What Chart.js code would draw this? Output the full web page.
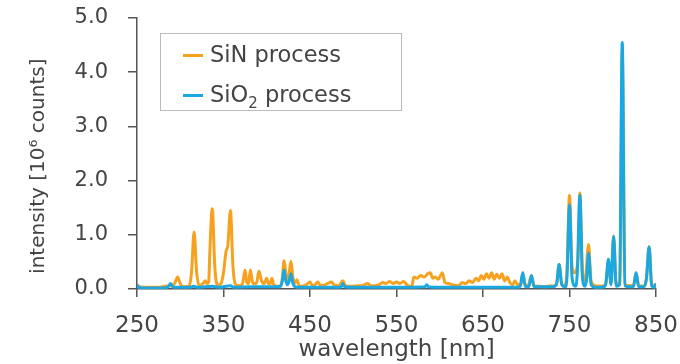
<!DOCTYPE html>
<html>
<head>
<meta charset="utf-8">
<script src="https://cdn.jsdelivr.net/npm/chart.js@4/dist/chart.umd.min.js"></script>
<style>
  body { margin: 0; background: #fff; }
  #wrap { position: relative; width: 680px; height: 364px; }
  #legend {
    position: absolute; left: 160px; top: 33px; width: 240px; height: 76px;
    border: 1px solid #bbb; background: #fff;
    font-family: "DejaVu Sans", sans-serif; font-size: 22.5px; color: #444;
  }
  .item { position: absolute; left: 22px; height: 30px; line-height: 30px; white-space: nowrap; }
  .swatch { display: inline-block; width: 20px; height: 3px; vertical-align: middle; margin-right: 7px; }
  sub { font-size: 15px; vertical-align: -6px; line-height: 0; }
</style>
</head>
<body>
<div id="wrap">
  <canvas id="chart" width="680" height="364"></canvas>
  <div id="legend"></div>
</div>
<script>
// wavelength [nm] / intensity [10^6 counts]
const sinWl = [250, 252, 260, 270, 280, 288, 291, 294, 297, 300, 303, 310, 313, 316, 319, 322, 326, 329, 331, 333,
  334, 337, 340, 343, 347, 350, 353, 355, 358, 361, 364, 368, 372, 375, 377, 379, 381, 384, 388, 391,
  394, 397, 400, 402, 404, 406, 408, 412, 416, 418, 420, 422, 424, 426, 428, 430, 432, 435, 437, 440,
  445, 450, 453, 456, 459, 462, 466, 470, 475, 478, 483, 488, 491, 495, 500, 505, 510, 517, 520, 525,
  530, 534, 538, 542, 546, 550, 554, 558, 562, 565, 568, 570, 574, 578, 582, 586, 589, 592, 595, 598,
  601, 603, 606, 610, 614, 618, 622, 626, 630, 634, 638, 642, 645, 648, 651, 654, 657, 660, 663, 666,
  669, 672, 675, 678, 681, 684, 687, 690, 694, 696, 698, 702, 706, 709, 715, 722, 728, 732, 735, 738,
  741, 744, 747, 750, 753, 756, 758, 760, 762, 765, 768, 772, 775, 780, 786, 790, 792, 795, 798, 801,
  804, 808, 811, 814, 818, 824, 827, 830, 836, 839, 842, 845, 848, 850];
const sinVal = [0.08, 0.05, 0.03, 0.03, 0.04, 0.06, 0.05, 0.12, 0.22, 0.1, 0.04, 0.05, 0.3, 1.05, 0.3, 0.06, 0.1, 0.15, 0.1, 0.15,
  0.6, 1.48, 0.4, 0.07, 0.1, 0.3, 0.7, 0.8, 1.45, 0.4, 0.08, 0.06, 0.1, 0.35, 0.12, 0.1, 0.35, 0.1, 0.1, 0.33,
  0.15, 0.1, 0.2, 0.1, 0.1, 0.2, 0.08, 0.05, 0.06, 0.2, 0.52, 0.3, 0.1, 0.3, 0.51, 0.25, 0.1, 0.17, 0.07, 0.05,
  0.07, 0.13, 0.06, 0.08, 0.13, 0.07, 0.07, 0.1, 0.13, 0.07, 0.06, 0.15, 0.06, 0.05, 0.05, 0.06, 0.06, 0.1, 0.06, 0.06,
  0.08, 0.12, 0.1, 0.14, 0.1, 0.13, 0.1, 0.14, 0.08, 0.05, 0.06, 0.22, 0.2, 0.25, 0.22, 0.28, 0.3, 0.2, 0.22, 0.18,
  0.25, 0.3, 0.12, 0.1, 0.08, 0.07, 0.06, 0.12, 0.1, 0.15, 0.12, 0.2, 0.15, 0.25, 0.18, 0.28, 0.2, 0.3, 0.18, 0.27,
  0.2, 0.28, 0.15, 0.22, 0.12, 0.08, 0.15, 0.08, 0.1, 0.3, 0.1, 0.06, 0.25, 0.06, 0.05, 0.04, 0.06, 0.05, 0.1, 0.45,
  0.1, 0.06, 0.3, 1.73, 0.4, 0.3, 0.35, 0.6, 1.77, 0.3, 0.15, 0.82, 0.15, 0.06, 0.05, 0.06, 0.1, 0.5, 0.1, 0.98,
  0.1, 0.1, 4.4, 0.1, 0.06, 0.07, 0.3, 0.06, 0.05, 0.2, 0.78, 0.1, 0.05, 0.1];

const sioWl = [250, 252, 260, 270, 280, 286, 289, 292, 300, 310, 316, 320, 337, 345, 358, 362, 380, 400, 410, 416,
  418, 420, 422, 424, 426, 428, 430, 433, 440, 460, 480, 486, 488, 490, 500, 550, 583, 585, 587, 600,
  650, 690, 693, 696, 699, 703, 706, 709, 730, 735, 738, 741, 745, 747, 750, 753, 757, 759, 762, 765,
  768, 770, 772, 775, 780, 790, 792, 795, 798, 801, 804, 808, 811, 814, 820, 824, 827, 830, 836, 839,
  842, 845, 848, 850];
const sioVal = [0.08, 0.03, 0.02, 0.02, 0.02, 0.04, 0.1, 0.03, 0.03, 0.03, 0.05, 0.03, 0.05, 0.03, 0.06, 0.03, 0.04, 0.04, 0.04, 0.05,
  0.15, 0.35, 0.15, 0.08, 0.15, 0.28, 0.12, 0.04, 0.03, 0.03, 0.03, 0.04, 0.1, 0.04, 0.03, 0.03, 0.04, 0.08, 0.04, 0.03,
  0.03, 0.03, 0.05, 0.3, 0.05, 0.04, 0.25, 0.04, 0.04, 0.08, 0.45, 0.08, 0.04, 0.2, 1.55, 0.2, 0.05, 0.3, 1.73, 0.2,
  0.05, 0.2, 0.66, 0.08, 0.03, 0.04, 0.1, 0.55, 0.08, 0.97, 0.05, 0.08, 4.55, 0.06, 0.04, 0.05, 0.3, 0.04, 0.04, 0.2,
  0.78, 0.06, 0.03, 0.1];

const xTicks = [250, 350, 450, 550, 650, 750, 850];
const yTicks = [0, 1, 2, 3, 4, 5];

const seriesNames = ["SiN process", "SiO2 process"];
const seriesColors = ["#f7a21e", "#19a8e2"];

const font = { family: "DejaVu Sans", size: 21 };
const textColor = "#444";
const axisColor = "#555";

function toPoints(xs, ys) {
  return xs.map((x, i) => ({ x, y: ys[i] }));
}

const config = {
  type: "line",
  data: {
    datasets: [
      {
        label: seriesNames[0],
        data: toPoints(sinWl, sinVal),
        borderColor: seriesColors[0],
        order: 1,
      },
      {
        label: seriesNames[1],
        data: toPoints(sioWl, sioVal),
        borderColor: seriesColors[1],
        order: 0,
      },
    ],
  },
  options: {
    responsive: false,
    animation: false,
    layout: { padding: { top: 18, right: 24, left: 0, bottom: 0 } },
    elements: {
      point: { radius: 0 },
      line: { borderWidth: 3, cubicInterpolationMode: "monotone", borderJoinStyle: "round" },
    },
    plugins: { legend: { display: false }, tooltip: { enabled: false } },
    scales: {
      x: {
        type: "linear",
        min: 250,
        max: 850,
        afterFit: (s) => {
          s.height = 75;
          s.paddingLeft = 0;
          s.paddingRight = 0;
        },
        afterBuildTicks: (s) => { s.ticks = xTicks.map((v) => ({ value: v })); },
        grid: { drawOnChartArea: false, drawTicks: true, tickLength: 8, color: axisColor, lineWidth: 1.5 },
        border: { display: true, color: axisColor, width: 1.5 },
        ticks: { font: { family: "DejaVu Sans", size: 23 }, color: textColor, padding: 15, maxRotation: 0 },
        title: { display: true, text: "wavelength [nm]", font: { family: "DejaVu Sans", size: 23 }, color: textColor, padding: { top: 0, bottom: 0 } },
      },
      y: {
        min: 0,
        max: 5,
        afterFit: (s) => {
          s.width = 137;
          s.paddingTop = 0;
          s.paddingBottom = 0;
        },
        afterBuildTicks: (s) => { s.ticks = yTicks.map((v) => ({ value: v })); },
        grid: { drawOnChartArea: false, drawTicks: true, tickLength: 9, color: axisColor, lineWidth: 1.5 },
        border: { display: true, color: axisColor, width: 1.5 },
        ticks: { font, color: textColor, padding: 20, callback: (v) => v.toFixed(1) },
        // trailing spaces push the rotated title a little below the axis centre, as in the original
        title: { display: true, text: "intensity [10\u2076 counts]\u00a0\u00a0\u00a0\u00a0", font: { family: "DejaVu Sans", size: 20 }, color: textColor, padding: { top: 27, bottom: 0 } },
      },
    },
  },
};

const chart = new Chart(document.getElementById("chart").getContext("2d"), config);

// boxed legend inside the plot
const legend = document.getElementById("legend");
let html = "";
chart.data.datasets.forEach((ds, i) => {
  const label = ds.label.replace("SiO2", "SiO<sub>2</sub>");
  html += `<div class="item" style="top: ${5 + i * 40}px">
    <span class="swatch" style="background: ${ds.borderColor}"></span>${label}</div>`;
});
legend.innerHTML = html;
</script>
</body>
</html>
